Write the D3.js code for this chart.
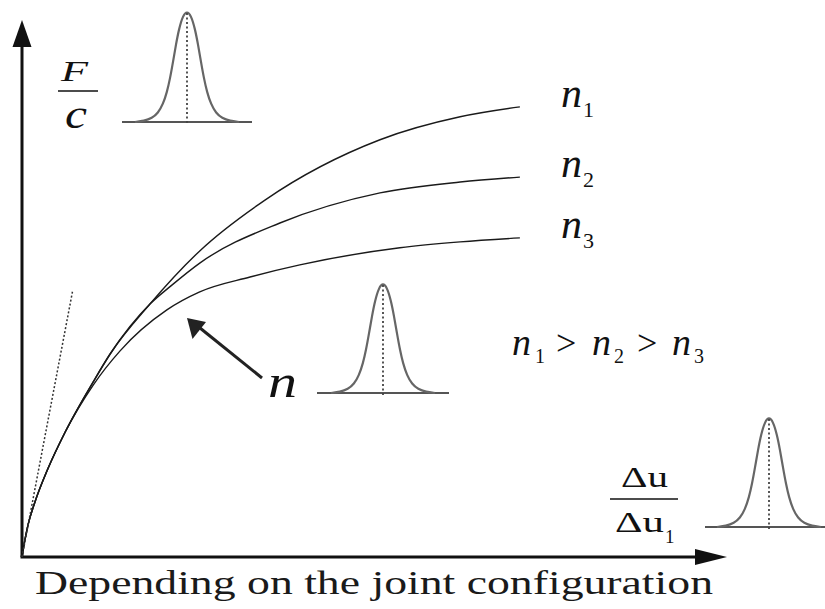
<!DOCTYPE html>
<html>
<head>
<meta charset="utf-8">
<script src="https://cdn.jsdelivr.net/npm/d3@7"></script>
<style>
  html, body { margin: 0; padding: 0; background: #fff; }
  svg { display: block; }
  text { font-family: "Liberation Serif", Tinos, serif; }
</style>
</head>
<body>
<svg id="chart" width="825" height="609"></svg>
<script>
// Normalised displacement (Δu/Δu1) where each curve is sampled, and the force level
const n1X = [0, 0.4, 1.2, 2.6, 5.2, 8.6, 14.3, 17.7, 25.7, 35.7, 48.8, 71.9, 88.0, 100];
const n1Y = [0, 2.7, 7.1, 12.2, 19.6, 27.6, 38.9, 45.1, 56.2, 68.0, 79.3, 92.7, 97.8, 100];

const n2X = [0, 0.4, 1.2, 2.6, 5.2, 8.6, 14.3, 17.7, 25.7, 30.1, 35.7, 51.8, 71.9, 88.0, 100];
const n2Y = [0, 2.7, 7.1, 12.2, 19.6, 27.6, 38.9, 45.1, 56.2, 60.4, 65.3, 74.2, 80.9, 83.3, 84.4];

const n3X = [0, 0.4, 1.2, 2.6, 5.2, 8.6, 14.3, 19.7, 29.1, 35.7, 45.8, 55.8, 75.9, 88.0, 100];
const n3Y = [0, 2.7, 7.1, 12.2, 19.6, 27.6, 38.2, 45.8, 54.9, 58.9, 62.2, 64.9, 68.7, 70.0, 70.9];

// Initial stiffness (tangent at the origin)
const tangentX = [0, 10.2];
const tangentY = [0, 59.3];

const seriesNames = ["n1", "n2", "n3"];
const seriesLabelSubs = ["1", "2", "3"];

// Distribution glyph profile: horizontal offset (px from centre) vs relative height
const bellDX = [0, 4, 8, 11, 14, 17, 20, 24, 29, 35, 43, 52];
const bellH  = [1, 0.96, 0.84, 0.7, 0.54, 0.39, 0.27, 0.16, 0.08, 0.035, 0.01, 0];

const svg = d3.select("#chart");

const x = d3.scaleLinear().domain([0, 141.6]).range([22, 727]);
const y = d3.scaleLinear().domain([0, 119.3]).range([557, 20]);

const ink = "#111";
const serif = '"Liberation Serif", Tinos, serif';

// ---- axes with arrowheads ----
svg.append("line")
  .attr("x1", x(0)).attr("y1", y(0))
  .attr("x2", x(0)).attr("y2", y(119.3) + 24)
  .attr("stroke", ink).attr("stroke-width", 3);
svg.append("path")
  .attr("d", `M${x(0)},${y(119.3)} L${x(0) - 9.5},${y(119.3) + 27} L${x(0) + 9.5},${y(119.3) + 27} Z`)
  .attr("fill", ink);

svg.append("line")
  .attr("x1", x(0) - 1.5).attr("y1", y(0))
  .attr("x2", x(141.6) - 28).attr("y2", y(0))
  .attr("stroke", ink).attr("stroke-width", 3);
svg.append("path")
  .attr("d", `M${x(141.6)},${y(0)} L${x(141.6) - 32},${y(0) - 8} L${x(141.6) - 32},${y(0) + 8} Z`)
  .attr("fill", ink);

// ---- curves ----
const line = d3.line()
  .x(d => x(d[0]))
  .y(d => y(d[1]))
  .curve(d3.curveMonotoneX);

const series = [
  d3.zip(n1X, n1Y),
  d3.zip(n2X, n2Y),
  d3.zip(n3X, n3Y)
];

svg.selectAll("path.curve")
  .data(series)
  .join("path")
  .attr("class", "curve")
  .attr("d", line)
  .attr("fill", "none")
  .attr("stroke", "#1a1a1a")
  .attr("stroke-width", 1.4);

svg.append("path")
  .attr("d", d3.line().x(d => x(d[0])).y(d => y(d[1]))(d3.zip(tangentX, tangentY)))
  .attr("fill", "none")
  .attr("stroke", "#333")
  .attr("stroke-width", 1.5)
  .attr("stroke-dasharray", "2,2");

// ---- series labels at the curve ends ----
const labelBase = series.map(s => y(s[s.length - 1][1]));
const labels = svg.selectAll("text.nlab")
  .data(seriesNames)
  .join("text")
  .attr("class", "nlab")
  .attr("x", 561)
  .attr("y", (d, i) => labelBase[i])
  .style("font-family", serif)
  .style("font-size", "42px")
  .attr("fill", ink);
labels.append("tspan").style("font-style", "italic").text("n");
labels.append("tspan")
  .style("font-size", "22px")
  .attr("dx", 1)
  .attr("dy", 10)
  .text((d, i) => seriesLabelSubs[i]);

// ---- ordering statement ----
const orderPieces = [
  { t: "n", x: 512, italic: true }, { t: "1", x: 535, sub: true },
  { t: ">", x: 556 },
  { t: "n", x: 592, italic: true }, { t: "2", x: 614, sub: true },
  { t: ">", x: 637 },
  { t: "n", x: 672, italic: true }, { t: "3", x: 694, sub: true }
];
svg.append("g").selectAll("text")
  .data(orderPieces)
  .join("text")
  .attr("x", d => d.x)
  .attr("y", d => d.sub ? 363 : 355)
  .style("font-family", serif)
  .style("font-style", d => d.italic ? "italic" : "normal")
  .style("font-size", d => d.sub ? "20px" : (d.italic ? "38px" : "36px"))
  .attr("fill", ink)
  .text(d => d.t);

// ---- distribution glyphs ----
function bell(cx, base, height, halfBase) {
  const g = svg.append("g");
  const pts = [];
  for (let i = bellDX.length - 1; i >= 0; i--) pts.push([cx - bellDX[i], base - bellH[i] * height]);
  for (let i = 1; i < bellDX.length; i++) pts.push([cx + bellDX[i], base - bellH[i] * height]);
  g.append("line")
    .attr("x1", cx - halfBase).attr("x2", cx + halfBase)
    .attr("y1", base).attr("y2", base)
    .attr("stroke", "#555").attr("stroke-width", 2);
  g.append("path")
    .attr("d", d3.line().curve(d3.curveBasis)(pts))
    .attr("fill", "none").attr("stroke", "#666").attr("stroke-width", 2.2);
  g.append("line")
    .attr("x1", cx).attr("x2", cx)
    .attr("y1", base - height + 2).attr("y2", base + 3)
    .attr("stroke", "#444").attr("stroke-width", 1.8)
    .attr("stroke-dasharray", "2,2.5");
}
bell(187, 122, 111, 65);
bell(383, 393, 110, 66);
bell(769, 527, 110, 64);

// ---- n pointer ----
svg.append("line")
  .attr("x1", 262).attr("y1", 378)
  .attr("x2", 200).attr("y2", 328)
  .attr("stroke", "#222").attr("stroke-width", 3);
svg.append("path")
  .attr("d", "M187,318 L192.5,339 L206,322 Z")
  .attr("fill", "#222");
svg.append("text")
  .attr("x", 268).attr("y", 397)
  .style("font-family", serif).style("font-style", "italic")
  .style("font-size", "46px")
  .attr("textLength", 29).attr("lengthAdjust", "spacingAndGlyphs")
  .attr("fill", ink)
  .text("n");

// ---- y-axis title F / c ----
svg.append("text")
  .attr("x", 61).attr("y", 81)
  .style("font-family", serif).style("font-style", "italic")
  .style("font-size", "30px")
  .attr("textLength", 27).attr("lengthAdjust", "spacingAndGlyphs")
  .attr("fill", ink).text("F");
svg.append("line")
  .attr("x1", 58).attr("x2", 98).attr("y1", 91).attr("y2", 91)
  .attr("stroke", ink).attr("stroke-width", 1.5);
svg.append("text")
  .attr("x", 65).attr("y", 128)
  .style("font-family", serif).style("font-style", "italic")
  .style("font-size", "42px")
  .attr("textLength", 22).attr("lengthAdjust", "spacingAndGlyphs")
  .attr("fill", ink).text("c");

// ---- x-axis title Δu / Δu1 ----
svg.append("text")
  .attr("x", 621).attr("y", 487)
  .style("font-family", serif).style("font-size", "30px")
  .attr("textLength", 47).attr("lengthAdjust", "spacingAndGlyphs")
  .attr("fill", ink).text("Δu");
svg.append("line")
  .attr("x1", 610).attr("x2", 678).attr("y1", 499).attr("y2", 499)
  .attr("stroke", ink).attr("stroke-width", 1.5);
svg.append("text")
  .attr("x", 615).attr("y", 532)
  .style("font-family", serif).style("font-size", "30px")
  .attr("textLength", 49).attr("lengthAdjust", "spacingAndGlyphs")
  .attr("fill", ink).text("Δu");
svg.append("text")
  .attr("x", 665).attr("y", 543)
  .style("font-family", serif).style("font-size", "19px")
  .attr("fill", ink).text("1");

// ---- caption ----
svg.append("text")
  .attr("x", 35).attr("y", 594)
  .style("font-family", serif).style("font-size", "34px")
  .attr("textLength", 678).attr("lengthAdjust", "spacingAndGlyphs")
  .attr("fill", "#1a1a1a")
  .text("Depending on the joint configuration");
</script>
</body>
</html>
